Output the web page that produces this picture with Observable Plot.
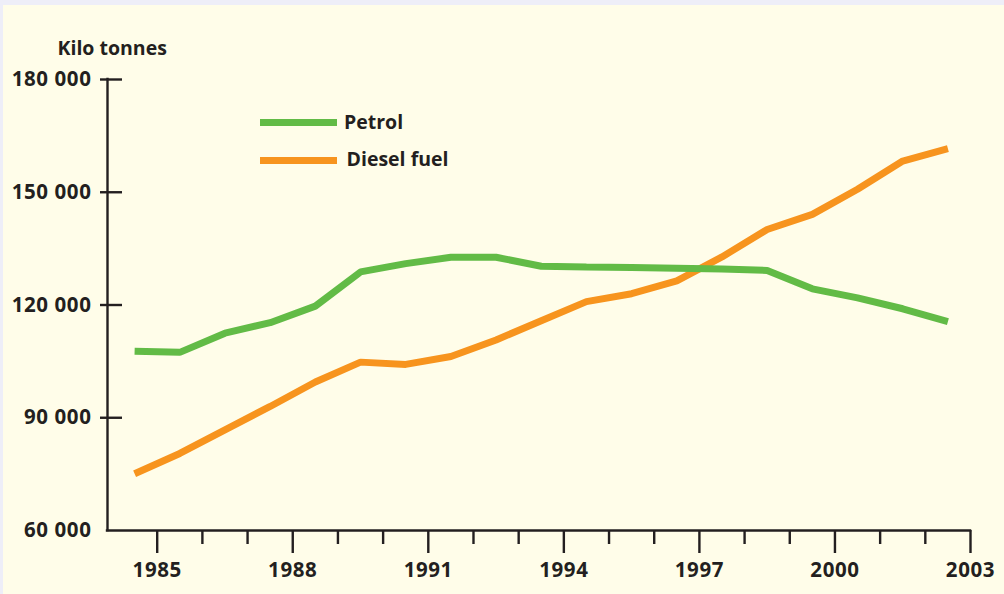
<!DOCTYPE html>
<html><head><meta charset="utf-8">
<script src="https://cdn.jsdelivr.net/npm/d3@7"></script>
<script src="https://cdn.jsdelivr.net/npm/@observablehq/plot@0.6"></script>
<style>
html,body{margin:0;padding:0;background:#eeeef8;}
#wrap{position:relative;width:1004px;height:594px;overflow:hidden;}
#paper{position:absolute;left:3px;top:5px;right:0;bottom:0;background:#fffde9;}
#chart{position:absolute;left:0;top:0;}
.leg{position:absolute;font-family:"Open Sans";font-weight:700;font-size:19.5px;line-height:1;color:#231f20;white-space:nowrap;}
.sw{position:absolute;height:7px;width:77px;}
</style></head><body>
<div id="wrap"><div id="paper"></div><div id="chart"></div><div id="legend"></div></div>
<script>
// Data (kilo tonnes), one value per year, drawn at mid-year
const years  = [1984,1985,1986,1987,1988,1989,1990,1991,1992,1993,1994,1995,1996,1997,1998,1999,2000,2001,2002];
const petrol = [107700,107400,112500,115300,119700,128800,131000,132700,132700,130300,130100,130000,129800,129600,129200,124300,121900,119000,115600];
const diesel = [75100,80500,86800,93000,99500,104800,104200,106300,110700,115800,120900,123000,126400,132800,140100,144100,150800,158300,161600];

const seriesNames  = ["Petrol", "Diesel fuel"];
const seriesColors = ["#62bb46", "#f7941e"];

const yTickValues   = [60000, 90000, 120000, 150000, 180000];
const xMajorTicks   = [1985, 1988, 1991, 1994, 1997, 2000, 2003];
const xMinorTicks   = [1986, 1987, 1989, 1990, 1992, 1993, 1995, 1996, 1998, 1999, 2001, 2002];
const yAxisTitle    = "Kilo tonnes";

const xStart = 1983.9;
const ink = "#231f20";
const fmt = d3.formatLocale({decimal: ".", thousands: " ", grouping: [3], currency: ["", ""]}).format(",");

const rows = years.map((y, i) => ({year: y, petrol: petrol[i], diesel: diesel[i]}));

const chart = Plot.plot({
  width: 1004,
  height: 594,
  marginLeft: 107,
  marginRight: 34,
  marginTop: 79,
  marginBottom: 64,
  style: {background: "transparent", color: ink, fontFamily: "Open Sans", fontWeight: 700, fontSize: "20.5px"},
  x: {domain: [xStart, 2003]},
  y: {domain: [60000, 180000]},
  marks: [
    Plot.ruleY([60000], {stroke: ink, strokeWidth: 2.4, strokeLinecap: "square"}),
    Plot.ruleX([xStart], {y1: 60000, y2: 180000, stroke: ink, strokeWidth: 2.4, strokeLinecap: "square"}),
    Plot.ruleY(yTickValues.filter(v => v > 60000), {x1: xStart, x2: xStart, insetLeft: -7, insetRight: -15, stroke: ink, strokeWidth: 2.4}),
    Plot.axisY({ticks: yTickValues, tickSize: 0, tickPadding: 16, tickFormat: fmt, label: null, fontSize: 20.5}),
    Plot.axisX({ticks: xMajorTicks, tickSize: 23, tickPadding: 9.2, tickFormat: d => String(d), label: null, strokeWidth: 2.4, fontSize: 20.5}),
    Plot.axisX({ticks: xMinorTicks, tickSize: 14, text: null, label: null, strokeWidth: 2.4}),
    Plot.text([yAxisTitle], {frameAnchor: "top-left", dx: -50, dy: -38.5, lineAnchor: "top", textAnchor: "start", fontSize: 19.5, fill: ink}),
    Plot.line(rows, {x: d => d.year + 0.5, y: "diesel", stroke: seriesColors[1], strokeWidth: 7, strokeLinecap: "butt", strokeLinejoin: "miter"}),
    Plot.line(rows, {x: d => d.year + 0.5, y: "petrol", stroke: seriesColors[0], strokeWidth: 7, strokeLinecap: "butt", strokeLinejoin: "miter"})
  ]
});
chart.querySelectorAll('g[aria-label="x-axis tick label"] text, g[aria-label="y-axis tick label"] text').forEach(t => t.style.letterSpacing = "0.6px");
document.getElementById("chart").appendChild(chart);

const legend = document.getElementById("legend");
const legPos = [{sw: 119.2, txt: 112, tx: 344}, {sw: 156.5, txt: 148.7, tx: 346.5}];
seriesNames.forEach((name, i) => {
  const sw = document.createElement("div");
  sw.className = "sw";
  sw.style.left = "260px";
  sw.style.top = legPos[i].sw + "px";
  sw.style.background = seriesColors[i];
  legend.appendChild(sw);
  const t = document.createElement("div");
  t.className = "leg";
  t.style.left = legPos[i].tx + "px";
  t.style.top = legPos[i].txt + "px";
  t.textContent = name;
  legend.appendChild(t);
});
</script>
</body></html>
